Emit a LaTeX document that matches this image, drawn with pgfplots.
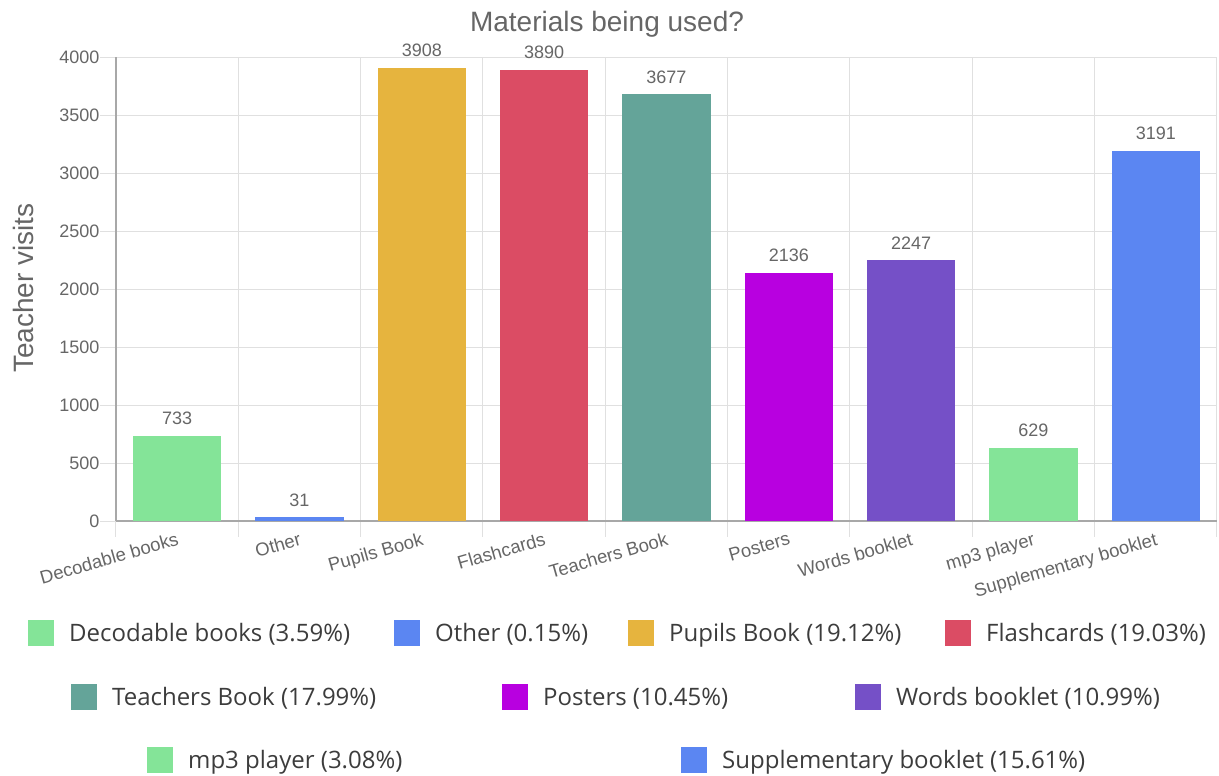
\documentclass[border=0pt]{standalone}
\usepackage{fontspec}
\setmainfont{Liberation Sans}
\newfontfamily\legendfont{Open Sans}
\usepackage{pgfplots}
\pgfplotsset{compat=1.18}
\definecolor{cgreen}{RGB}{132,228,152}
\definecolor{cblue}{RGB}{91,134,242}
\definecolor{cyellow}{RGB}{230,180,62}
\definecolor{cred}{RGB}{219,76,100}
\definecolor{cteal}{RGB}{100,164,153}
\definecolor{cmagenta}{RGB}{184,0,224}
\definecolor{cpurple}{RGB}{117,80,199}
\definecolor{gridcol}{RGB}{224,224,224}
\definecolor{axiscol}{RGB}{168,168,168}
\definecolor{textgray}{RGB}{102,102,102}
\definecolor{legtext}{RGB}{60,60,60}
\newcommand\axf{\fontsize{18}{22}\selectfont}
\newcommand\xlf{\fontsize{18.5}{22}\selectfont}
\newcommand\bigf{\fontsize{28}{32}\selectfont}
\newcommand\legf{\fontsize{24}{28}\selectfont\legendfont}
\begin{document}
\begin{tikzpicture}[x=1pt,y=1pt]
\useasboundingbox (0,0) rectangle (1219,-776);
\begin{axis}[
  at={(116pt,-521pt)}, anchor=south west,
  scale only axis, width=1101pt, height=464pt,
  xmin=-0.5, xmax=8.5, ymin=0, ymax=4000,
  ybar, bar width=0.72, bar shift=0pt,
  axis lines=left, axis line style={-, draw=axiscol, line width=1.2pt},
  xtick={-0.5,0.5,1.5,2.5,3.5,4.5,5.5,6.5,7.5,8.5}, xticklabels={},
  ytick={0,500,...,4000},
  grid=major, grid style={gridcol, line width=1pt},
  tick align=outside, major tick length=16pt, tick style={gridcol, line width=1pt},
  yticklabel style={font=\axf, text=textgray, xshift=3pt},
  extra x ticks={0,1,2,3,4,5,6,7,8},
  extra x tick labels={Decodable books, Other, Pupils Book, Flashcards, Teachers Book, Posters, Words booklet, mp3 player, Supplementary booklet},
  extra x tick style={grid=none, major tick length=0pt,
    xticklabel style={rotate=16, anchor=north east, font=\xlf, text=textgray, inner sep=0pt, yshift=-10pt, xshift=-4pt}},
  nodes near coords,
  nodes near coords style={font=\axf, text=textgray, anchor=south, inner sep=0pt, yshift=11pt},
  /pgf/number format/1000 sep={},
  /pgf/number format/assume math mode=true,
  clip=false,
]
\addplot[fill=cgreen, draw=none] coordinates {(0,733)};
\addplot[fill=cblue, draw=none] coordinates {(1,31)};
\addplot[fill=cyellow, draw=none] coordinates {(2,3908)};
\addplot[fill=cred, draw=none] coordinates {(3,3890)};
\addplot[fill=cteal, draw=none] coordinates {(4,3677)};
\addplot[fill=cmagenta, draw=none] coordinates {(5,2136)};
\addplot[fill=cpurple, draw=none] coordinates {(6,2247)};
\addplot[fill=cgreen, draw=none] coordinates {(7,629)};
\addplot[fill=cblue, draw=none] coordinates {(8,3191)};
\end{axis}
\node[font=\bigf, text=textgray, anchor=base] at (607,-32) {Materials being used?};
\node[font=\bigf, text=textgray, rotate=90, anchor=base] at (33,-288) {Teacher visits};
\foreach \tx/\ty/\c/\t in {69/633/cgreen/{Decodable books (3.59\%)}, 435/633/cblue/{Other (0.15\%)}, 669/633/cyellow/{Pupils Book (19.12\%)}, 986/633/cred/{Flashcards (19.03\%)}, 112/697/cteal/{Teachers Book (17.99\%)}, 543/697/cmagenta/{Posters (10.45\%)}, 896/697/cpurple/{Words booklet (10.99\%)}, 188/760/cgreen/{mp3 player (3.08\%)}, 722/760/cblue/{Supplementary booklet (15.61\%)}}{
  \fill[\c] (\tx-41,-\ty+13) rectangle ++(26,-26);
  \node[font=\legf, text=legtext, anchor=base west, inner sep=0pt] at (\tx,-\ty-8.5) {\t};
}
\end{tikzpicture}
\end{document}
